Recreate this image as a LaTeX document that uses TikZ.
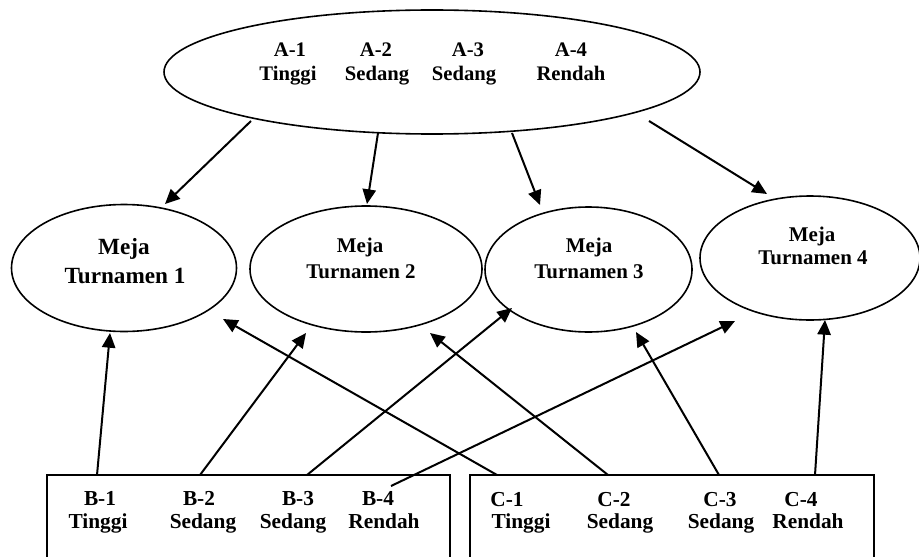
\documentclass[tikz,border=0pt]{standalone}
\usepackage{fontspec}
\setmainfont{Liberation Serif}
\usetikzlibrary{arrows.meta,shapes.geometric}
\begin{document}
\begin{tikzpicture}[x=0.75pt,y=-0.75pt,
  oval/.style={draw=black, line width=1.2pt, ellipse, inner sep=0pt, outer sep=0pt},
  boxshape/.style={draw=black, line width=1.2pt, rectangle, inner sep=0pt, outer sep=0pt, anchor=north west},
  topfont/.style={anchor=base, inner sep=0pt, font=\fontsize{15.5}{18}\selectfont\bfseries},
  boxfont/.style={anchor=base, inner sep=0pt, font=\fontsize{16}{18}\selectfont\bfseries},
  mfontA/.style={anchor=base, inner sep=0pt, font=\fontsize{17.4}{20}\selectfont\bfseries},
  mfontB/.style={anchor=base, inner sep=0pt, font=\fontsize{15.7}{18}\selectfont\bfseries},
  arr/.style={line width=1.5pt, -{Triangle[length=11pt,width=10pt]}}
]
\fill[white] (0,0) rectangle (919,556);
\useasboundingbox (0,0) rectangle (919,556);
\clip (0,0) rectangle (919,556);

% ellipses
\node[oval, minimum width=402pt, minimum height=93pt] (top) at (432,72) {};
\node[oval, minimum width=168.75pt, minimum height=95.25pt] (m1) at (124,268) {};
\node[oval, minimum width=174pt, minimum height=94.5pt] (m2) at (366,269) {};
\node[oval, minimum width=155.25pt, minimum height=93.75pt] (m3) at (588.5,269.5) {};
\node[oval, minimum width=165pt, minimum height=93pt] (m4) at (810,258) {};

% boxes (bottom edge lies below the picture)
\node[boxshape, minimum width=302.25pt, minimum height=90pt] (bbox) at (47,475) {};
\node[boxshape, minimum width=303pt, minimum height=90pt] (cbox) at (470,475) {};

% texts in top ellipse
\foreach \nm/\x/\y/\t in {a1/290/57/A-1, a1b/288/81/Tinggi, a2/376/57/A-2, a2b/377/81/Sedang,
  a3/468/57/A-3, a3b/464/81/Sedang, a4/571/57/A-4, a4b/571/81/Rendah}
  \node[topfont] (\nm) at (\x,\y) {\t};

% texts in Meja ellipses
\node[mfontA] (m1a) at (124,254) {Meja};
\node[mfontA] (m1b) at (125,283) {Turnamen 1};
\node[mfontB] (m2a) at (360,252) {Meja};
\node[mfontB] (m2b) at (361,278) {Turnamen 2};
\node[mfontB] (m3a) at (589,252) {Meja};
\node[mfontB] (m3b) at (589,278) {Turnamen 3};
\node[mfontB] (m4a) at (812,241) {Meja};
\node[mfontB] (m4b) at (813,264) {Turnamen 4};

% texts in boxes
\foreach \nm/\x/\y/\t in {b1/100/505/B-1, b1b/98/528/Tinggi, b2/199/505/B-2, b2b/203/528/Sedang,
  b3/298/505/B-3, b3b/293/528/Sedang, b4/378/505/B-4, b4b/384/528/Rendah,
  c1/507/506/C-1, c1b/521/528/Tinggi, c2/614/506/C-2, c2b/620/528/Sedang,
  c3/720/506/C-3, c3b/721/528/Sedang, c4/801/506/C-4, c4b/808/528/Rendah}
  \node[boxfont] (\nm) at (\x,\y) {\t};

% arrows from top ellipse
\draw[arr] ([shift={(-181,49)}]top.center) -- ([shift={(41,-64)}]m1.center);
\draw[arr] ([shift={(-54,61)}]top.center) -- ([shift={(1,-65)}]m2.center);
\draw[arr] ([shift={(80,61)}]top.center) -- ([shift={(-48.5,-64.5)}]m3.center);
\draw[arr] ([shift={(217,49)}]top.center) -- ([shift={(-43,-64)}]m4.center);

% arrows from B box
\draw[arr] ([shift={(50,0)}]bbox.north west) -- ([shift={(-14,65)}]m1.center);
\draw[arr] ([shift={(153,0)}]bbox.north west) -- ([shift={(-60,64)}]m2.center);
\draw[arr] ([shift={(260,0)}]bbox.north west) -- ([shift={(-76.5,38.5)}]m3.center);
\draw[arr] ([shift={(344,11)}]bbox.north west) -- ([shift={(-75,63)}]m4.center);

% arrows from C box
\draw[arr] ([shift={(27,0)}]cbox.north west) -- ([shift={(99,51)}]m1.center);
\draw[arr] ([shift={(138,0)}]cbox.north west) -- ([shift={(64,64)}]m2.center);
\draw[arr] ([shift={(249,0)}]cbox.north west) -- ([shift={(47.5,62.5)}]m3.center);
\draw[arr] ([shift={(345,0)}]cbox.north west) -- ([shift={(15,62)}]m4.center);
\end{tikzpicture}
\end{document}
